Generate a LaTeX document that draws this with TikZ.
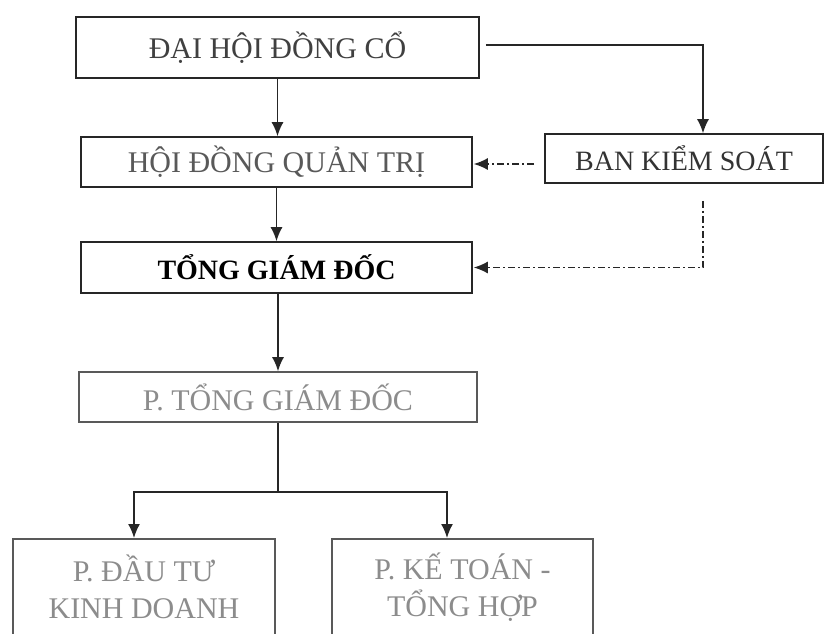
\documentclass[tikz,border=0pt]{standalone}
\usepackage{fontspec}
\setmainfont{Liberation Serif}
\usetikzlibrary{positioning, arrows.meta}
\tikzset{
	every text node part/.style= {
		align=center
	},
	unit/.style= {
		rectangle,
		draw=black!85,
		line width=1.6pt,
		inner sep=0pt,
		text=black!75,
		font=\fontsize{30}{37}\selectfont
	},
	faint/.style= {
		draw=black!65,
		text=black!45
	},
	flow/.style={draw=black!85, line width=1.6pt, -{Latex[length=14pt, width=12pt]}},
	check/.style={flow, line width=1.4pt, dash pattern=on 7pt off 3pt on 2pt off 3pt},
}

\begin{document}
\begin{tikzpicture}[x=1pt, y=-1pt]
		\clip (0,0) rectangle (825,633);
		\fill[white] (0,0) rectangle (825,633);

		\node (dhdcd) [unit, minimum width=403pt, minimum height=61pt] at (277.5,47.5) {ĐẠI HỘI ĐỒNG CỔ};
		\node (hdqt) [unit, text=black!65, minimum width=391pt, minimum height=50pt] at (276.5,162) {HỘI ĐỒNG QUẢN TRỊ};
		\node (bks) [unit, text=black!80, font=\fontsize{28}{34}\selectfont, minimum width=278pt, minimum height=49pt] at (684,158.5) {BAN KIỂM SOÁT};
		\node (tgd) [unit, text=black, font=\fontsize{28}{34}\selectfont\bfseries, minimum width=391pt, minimum height=51pt] at (276.5,267.5) {TỔNG GIÁM ĐỐC};
		\node (ptgd) [unit, faint, minimum width=398pt, minimum height=50pt] at (278,397) {P. TỔNG GIÁM ĐỐC};

		\node (pdt) [unit, faint, anchor=north, minimum width=262pt, minimum height=96pt] at (144,538) {P. ĐẦU TƯ\\KINH DOANH};
		\node (pkt) [unit, faint, anchor=north, minimum width=261pt, minimum height=96pt] at (462.5,538) {P. KẾ TOÁN -\\TỔNG HỢP};

		\coordinate (split) at (278,492);

		\draw[flow] (dhdcd.south) -- (dhdcd.south |- hdqt.north);
		\draw[flow] ([xshift=6pt, yshift=2.5pt]dhdcd.east) -| ([xshift=19pt]bks.north);
		\draw[check] ([xshift=-10pt]bks.west |- 0,164) -- ([xshift=1pt]hdqt.east |- 0,164);
		\draw[check] ([xshift=19pt, yshift=-17pt]bks.south) |- ([xshift=1pt]tgd.east);
		\draw[flow] (hdqt.south) -- (tgd.north);
		\draw[flow] (ptgd.south |- tgd.south) -- (ptgd.north);
		\draw[draw=black!85, line width=1.6pt] (ptgd.south) -- (split);
		\draw[flow] (split) -| ([xshift=-10pt]pdt.north);
		\draw[flow] (split) -| ([xshift=-15.5pt]pkt.north);
	\end{tikzpicture}
\end{document}
